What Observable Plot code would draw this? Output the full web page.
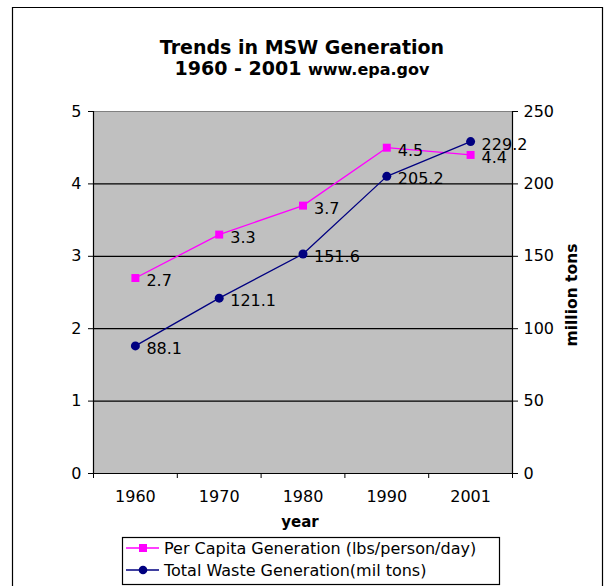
<!DOCTYPE html>
<html>
<head>
<meta charset="utf-8">
<script src="https://cdn.jsdelivr.net/npm/d3@7"></script>
<script src="https://cdn.jsdelivr.net/npm/@observablehq/plot@0.6"></script>
<style>
  body { margin: 0; background: #fff; }
  #wrap { position: relative; width: 610px; height: 586px; overflow: hidden; font-family: "DejaVu Sans", Verdana, sans-serif; }
  #wrap > svg { position: absolute; left: 0; top: 0; }
</style>
</head>
<body>
<div id="wrap"></div>
<script>
const years = ["1960", "1970", "1980", "1990", "2001"];
const perCapita = [2.7, 3.3, 3.7, 4.5, 4.4];
const totalWaste = [88.1, 121.1, 151.6, 205.2, 229.2];
const leftTicks = [0, 1, 2, 3, 4, 5];
const rightTicks = [0, 50, 100, 150, 200, 250];
const titleLine1 = "Trends in MSW Generation";
const titleLine2 = "1960 - 2001";
const titleSource = "www.epa.gov";
const xTitle = "year";
const yRightTitle = "million tons";
const seriesNames = ["Per Capita Generation (lbs/person/day)", "Total Waste Generation(mil tons)"];

const ratio = rightTicks[rightTicks.length - 1] / leftTicks[leftTicks.length - 1];
const data = years.map((y, i) => ({i, year: y, per: perCapita[i], total: totalWaste[i], totalScaled: totalWaste[i] / ratio}));
const bounds = d3.range(years.length + 1).map(k => k - 0.5);

const PINK = "#ff00ff", NAVY = "#000080";
const FS = 16;

const chart = Plot.plot({
  width: 610, height: 586,
  marginLeft: 93, marginRight: 98, marginTop: 111, marginBottom: 113,
  x: {domain: [-0.5, years.length - 0.5]},
  y: {domain: [0, 5]},
  style: {fontFamily: "DejaVu Sans, Verdana, sans-serif", fontSize: FS + "px", background: "transparent", color: "black"},
  marks: [
    Plot.frame({fill: "#c0c0c0", stroke: null}),
    Plot.ruleY([1, 2, 3, 4], {stroke: "black", strokeWidth: 1.2}),
    Plot.ruleY([5], {stroke: "#808080", strokeWidth: 1.2}),
    Plot.ruleY([0], {stroke: "black", strokeWidth: 1.2}),
    Plot.ruleX([bounds[0], bounds[bounds.length - 1]], {stroke: "black", strokeWidth: 1.2}),
    Plot.axisY({anchor: "left", ticks: leftTicks, tickFormat: d => String(d), tickSize: 5, tickPadding: 7, label: null, fontSize: FS}),
    Plot.axisY({anchor: "right", ticks: leftTicks, tickFormat: d => String(rightTicks[leftTicks.indexOf(d)]), tickSize: 5, tickPadding: 6, label: null, fontSize: FS}),
    Plot.axisX({ticks: bounds, tickFormat: () => "", tickSize: 5, label: null}),
    Plot.axisX({ticks: d3.range(years.length), tickFormat: i => years[i], tickSize: 0, tickPadding: 17, label: null, fontSize: FS}),
    Plot.line(data, {x: "i", y: "per", stroke: PINK, strokeWidth: 1.3}),
    Plot.line(data, {x: "i", y: "totalScaled", stroke: NAVY, strokeWidth: 1.3}),
    Plot.dot(data, {x: "i", y: "per", symbol: "square", fill: PINK, r: 4.5}),
    Plot.dot(data, {x: "i", y: "totalScaled", symbol: "circle", fill: NAVY, r: 4.5}),
    Plot.text(data, {x: "i", y: "per", text: d => d.per.toFixed(1), textAnchor: "start", dx: 11, dy: 3, fill: "black", fontSize: FS}),
    Plot.text(data, {x: "i", y: "totalScaled", text: d => d.total.toFixed(1), textAnchor: "start", dx: 11, dy: 3, fill: "black", fontSize: FS})
  ]
});
document.getElementById("wrap").appendChild(chart);

// Overlay: outer frame, titles, legend
const ov = d3.select("#wrap").append("svg").attr("width", 610).attr("height", 586)
  .style("font-family", "DejaVu Sans, Verdana, sans-serif");
ov.append("path").attr("d", "M12.5,590 V7.5 H602.5 V590").attr("fill", "none").attr("stroke", "black").attr("stroke-width", 1.2);

ov.append("text").attr("x", 302).attr("y", 54).attr("text-anchor", "middle")
  .attr("font-size", 19).attr("font-weight", "bold").text(titleLine1);
const t2 = ov.append("text").attr("x", 302).attr("y", 75).attr("text-anchor", "middle").attr("font-weight", "bold");
t2.append("tspan").attr("font-size", 19).text(titleLine2 + " ");
t2.append("tspan").attr("font-size", 16).text(titleSource);

ov.append("text").attr("x", 300).attr("y", 527).attr("text-anchor", "middle")
  .attr("font-size", 15).attr("font-weight", "bold").text(xTitle);
ov.append("text").attr("transform", "translate(577,295) rotate(-90)").attr("text-anchor", "middle")
  .attr("font-size", 15.5).attr("font-weight", "bold").text(yRightTitle);

// legend
ov.append("rect").attr("x", 122.5).attr("y", 537.5).attr("width", 377).attr("height", 47)
  .attr("fill", "white").attr("stroke", "black").attr("stroke-width", 1.2);
const legendRows = [{name: seriesNames[0], color: PINK, sym: "square", y: 548}, {name: seriesNames[1], color: NAVY, sym: "circle", y: 570}];
legendRows.forEach(r => {
  ov.append("line").attr("x1", 126).attr("x2", 159).attr("y1", r.y).attr("y2", r.y).attr("stroke", r.color).attr("stroke-width", 1.3);
  if (r.sym === "square") ov.append("rect").attr("x", 139).attr("y", r.y - 4).attr("width", 8).attr("height", 8).attr("fill", r.color);
  else ov.append("circle").attr("cx", 143).attr("cy", r.y).attr("r", 4.3).attr("fill", r.color);
  ov.append("text").attr("x", 164).attr("y", r.y + 6).attr("font-size", FS).text(r.name);
});
</script>
</body>
</html>
